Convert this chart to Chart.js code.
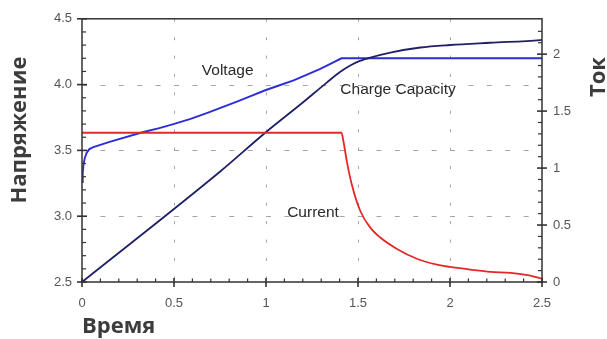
<!DOCTYPE html>
<html>
<head>
<meta charset="utf-8">
<script src="https://cdn.jsdelivr.net/npm/chart.js@4/dist/chart.umd.min.js"></script>
<style>
  html, body { margin: 0; padding: 0; background: #fff; }
  canvas { display: block; }
</style>
</head>
<body>
<canvas id="chart" width="607" height="339"></canvas>
<script>
// time axis (x) and its labels
const xMajor = [0, 0.5, 1, 1.5, 2, 2.5];
const xLabels = ['0', '0.5', '1', '1.5', '2', '2.5'];
// left axis: voltage
const yMajor = [2.5, 3.0, 3.5, 4.0, 4.5];
const yLabels = ['2.5', '3.0', '3.5', '4.0', '4.5'];
// right axis: current / capacity
const y1Major = [0, 0.5, 1, 1.5, 2];
const y1Labels = ['0', '0.5', '1', '1.5', '2'];

// Voltage curve
const voltageT = [0, 0.004, 0.008, 0.015, 0.025, 0.04, 0.062, 0.15, 0.334, 0.42, 0.497, 0.59, 0.678, 0.76, 0.842, 0.92, 0.996, 1.07, 1.15, 1.22, 1.295, 1.35, 1.41, 1.6, 2.0, 2.5];
const voltageV = [3.26, 3.33, 3.39, 3.44, 3.48, 3.51, 3.525, 3.565, 3.64, 3.669, 3.70, 3.74, 3.784, 3.827, 3.871, 3.914, 3.957, 3.993, 4.032, 4.074, 4.119, 4.157, 4.20, 4.20, 4.20, 4.20];

// Charge capacity curve (right axis)
const capT = [0, 0.751, 0.996, 1.2, 1.33, 1.404, 1.458, 1.51, 1.567, 1.676, 1.839, 2.0, 2.218, 2.49, 2.5];
const capQ = [0, 0.97, 1.31, 1.575, 1.75, 1.845, 1.9, 1.94, 1.97, 2.014, 2.058, 2.08, 2.10, 2.123, 2.125];

// Current curve (right axis)
const currT = [0, 1.41, 1.422, 1.44, 1.467, 1.513, 1.567, 1.621, 1.712, 1.82, 1.93, 2.0, 2.11, 2.22, 2.33, 2.42, 2.5];
const currI = [1.31, 1.31, 1.224, 1.052, 0.851, 0.621, 0.477, 0.39, 0.29, 0.204, 0.152, 0.132, 0.109, 0.089, 0.08, 0.06, 0.03];

// text placed inside the plot, in data units of the left axis
const notes = [
  { text: 'Voltage', x: 0.651, y: 4.07 },
  { text: 'Charge Capacity', x: 1.404, y: 3.929 },
  { text: 'Current', x: 1.115, y: 2.993 },
];

const toPoints = (xs, ys) => xs.map((t, i) => ({ x: t, y: ys[i] }));
const labelFor = (majors, labels) => (v) => {
  const i = majors.findIndex(m => Math.abs(m - v) < 1e-6);
  return i < 0 ? '' : labels[i];
};
const isMajor = (majors, v) => majors.some(m => Math.abs(m - v) < 1e-6);
const onStep = (v) => Math.abs(v * 10 - Math.round(v * 10)) < 1e-6;

const tickFont = { family: 'Liberation Sans, Arial, sans-serif', size: 13 };
const tickColor = '#555';

function line(ctx, x1, y1, x2, y2) {
  ctx.beginPath();
  ctx.moveTo(x1, y1);
  ctx.lineTo(x2, y2);
  ctx.stroke();
}

const framePlugin = {
  id: 'frame',
  beforeDatasetsDraw(chart) {
    const { ctx, chartArea: a, scales: { x, y } } = chart;
    ctx.save();
    ctx.strokeStyle = '#a5a5a5';
    ctx.lineWidth = 1;
    ctx.setLineDash([3, 15.4]);
    xMajor.forEach(v => {
      if (v <= x.min || v >= x.max) return;
      const px = Math.round(x.getPixelForValue(v)) + 0.5;
      line(ctx, px, a.top, px, a.bottom);
    });
    ctx.setLineDash([5, 13.4]);
    yMajor.forEach(v => {
      if (v <= y.min || v >= y.max) return;
      const py = Math.round(y.getPixelForValue(v)) + 0.5;
      line(ctx, a.left, py, a.right, py);
    });
    ctx.restore();
  },
  afterDatasetsDraw(chart) {
    const { ctx, chartArea: a, scales: { x, y, y1 } } = chart;
    ctx.save();
    ctx.strokeStyle = '#333';
    ctx.lineWidth = 1.5;
    ctx.strokeRect(a.left, a.top, a.right - a.left, a.bottom - a.top);

    // ticks on bottom axis
    x.ticks.forEach(t => {
      if (!onStep(t.value)) return;
      const px = x.getPixelForValue(t.value);
      if (isMajor(xMajor, t.value)) { ctx.lineWidth = 1.6; line(ctx, px, a.bottom - 4, px, a.bottom + 5); }
      else { ctx.lineWidth = 1.2; line(ctx, px, a.bottom - 3.5, px, a.bottom); }
    });
    // ticks on left axis
    y.ticks.forEach(t => {
      if (!onStep(t.value)) return;
      const py = y.getPixelForValue(t.value);
      if (isMajor(yMajor, t.value)) { ctx.lineWidth = 1.6; line(ctx, a.left - 5, py, a.left + 5, py); }
      else { ctx.lineWidth = 1.2; line(ctx, a.left, py, a.left + 4, py); }
    });
    // ticks on right axis
    y1.ticks.forEach(t => {
      if (!onStep(t.value)) return;
      const py = y1.getPixelForValue(t.value);
      if (isMajor(y1Major, t.value)) { ctx.lineWidth = 1.6; line(ctx, a.right - 5, py, a.right + 5, py); }
      else { ctx.lineWidth = 1.2; line(ctx, a.right - 4, py, a.right, py); }
    });

    // curve names
    ctx.fillStyle = '#2a2a2a';
    ctx.font = '15.5px "Liberation Sans", Arial, sans-serif';
    ctx.textAlign = 'left';
    ctx.textBaseline = 'alphabetic';
    notes.forEach(n => ctx.fillText(n.text, x.getPixelForValue(n.x), y.getPixelForValue(n.y)));

    // axis titles
    ctx.fillStyle = '#3c3c3c';
    ctx.font = 'bold 22px "Open Sans", sans-serif';
    ctx.fillText('Время', 82, 333);

    ctx.textAlign = 'center';
    ctx.save();
    ctx.translate(26, 130);
    ctx.rotate(-Math.PI / 2);
    ctx.fillText('Напряжение', 0, 0);
    ctx.restore();

    ctx.save();
    ctx.translate(605, 77);
    ctx.rotate(-Math.PI / 2);
    ctx.fillText('Ток', 0, 0);
    ctx.restore();

    ctx.restore();
  }
};

new Chart(document.getElementById('chart'), {
  type: 'line',
  data: {
    datasets: [
      {
        label: 'Current',
        data: toPoints(currT, currI),
        yAxisID: 'y1',
        borderColor: 'rgb(228,40,40)',
        borderWidth: 1.8,
        cubicInterpolationMode: 'monotone',
      },
      {
        label: 'Charge Capacity',
        data: toPoints(capT, capQ),
        yAxisID: 'y1',
        borderColor: 'rgb(32,32,105)',
        borderWidth: 1.8,
        cubicInterpolationMode: 'monotone',
      },
      {
        label: 'Voltage',
        data: toPoints(voltageT, voltageV),
        yAxisID: 'y',
        borderColor: 'rgb(45,45,215)',
        borderWidth: 1.9,
        tension: 0,
      },
    ],
  },
  options: {
    responsive: false,
    animation: false,
    elements: { point: { radius: 0 } },
    layout: { padding: { top: 14, left: 0, right: 0, bottom: 0 } },
    plugins: { legend: { display: false }, tooltip: { enabled: false } },
    scales: {
      x: {
        type: 'linear',
        min: 0,
        max: 2.5,
        grid: { display: false, drawTicks: false },
        border: { display: false },
        ticks: {
          stepSize: 0.1, autoSkip: false, maxRotation: 0,
          padding: 14, font: tickFont, color: tickColor,
          callback: labelFor(xMajor, xLabels),
        },
        afterFit(s) { s.height = 57; },
      },
      y: {
        position: 'left',
        min: 2.5,
        max: 4.5,
        grid: { display: false, drawTicks: false },
        border: { display: false },
        ticks: {
          stepSize: 0.1, autoSkip: false,
          padding: 10, font: tickFont, color: tickColor,
          callback: labelFor(yMajor, yLabels),
        },
        afterFit(s) { s.width = 82; },
      },
      y1: {
        position: 'right',
        min: 0,
        max: 2.31,
        grid: { display: false, drawTicks: false },
        border: { display: false },
        ticks: {
          stepSize: 0.1, autoSkip: false,
          padding: 11, font: tickFont, color: tickColor,
          callback: labelFor(y1Major, y1Labels),
        },
        afterFit(s) { s.width = 65; },
      },
    },
  },
  plugins: [framePlugin],
});
</script>
</body>
</html>
